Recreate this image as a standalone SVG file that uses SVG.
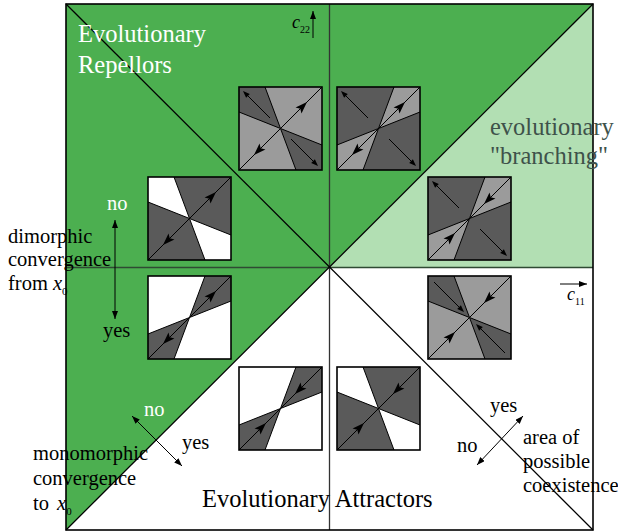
<svg xmlns="http://www.w3.org/2000/svg" xmlns:xlink="http://www.w3.org/1999/xlink" width="618" height="532" viewBox="0 0 618 532">
<style>
.t{font-family:"Liberation Serif","Times New Roman",serif;font-size:20.5px;fill:#000}
.big{font-size:24.5px}
.w{fill:#fff}
.br{fill:#3e524a}
.it{font-style:italic}
.sub{font-size:11px}
.ln{stroke:#000;stroke-width:1.3;fill:none}
.thin{stroke:#000;stroke-width:1;fill:none}
.frame{stroke:#000;stroke-width:1.6;fill:none}
.dk{fill:#5a5a5a}
.lt{fill:#9b9b9b}
.wh{fill:#fff}
</style>
<defs>
<path id="wA" d="M0,0 L26,0 L41.5,41.5 L0,25 Z M83,58 L83,83 L57,83 L41.5,41.5 Z"/>
<path id="lA" d="M26,0 L57,83 M0,25 L83,58"/>
<path id="wB" d="M83,0 L57,0 L41.5,41.5 L83,25 Z M0,58 L0,83 L26,83 L41.5,41.5 Z"/>
<path id="lB" d="M57,0 L26,83 M83,25 L0,58"/>
<path id="ah" d="M0,0 L-12,-4.2 L-9.5,0 L-12,4.2 Z"/>
<path id="sh" d="M0,0 L-7,-2.6 L-7,2.6 Z"/>
<g id="dOut">
<line class="thin" x1="0" y1="83" x2="83" y2="0"/>
<use xlink:href="#ah" href="#ah" transform="translate(68,15) rotate(-45)"/>
<use xlink:href="#ah" href="#ah" transform="translate(15,68) rotate(135)"/>
</g>
<g id="dIn">
<line class="thin" x1="0" y1="83" x2="83" y2="0"/>
<use xlink:href="#ah" href="#ah" transform="translate(56,27) rotate(135)"/>
<use xlink:href="#ah" href="#ah" transform="translate(27,56) rotate(-45)"/>
</g>
<g id="sOut">
<line class="thin" x1="31" y1="31" x2="5" y2="5"/>
<use xlink:href="#sh" href="#sh" transform="translate(4,4) rotate(-135)"/>
<line class="thin" x1="52" y1="52" x2="78" y2="78"/>
<use xlink:href="#sh" href="#sh" transform="translate(79,79) rotate(45)"/>
</g>
<g id="sIn">
<line class="thin" x1="6" y1="6" x2="35" y2="35"/>
<use xlink:href="#sh" href="#sh" transform="translate(36,36) rotate(45)"/>
<line class="thin" x1="77" y1="77" x2="49" y2="49"/>
<use xlink:href="#sh" href="#sh" transform="translate(48,48) rotate(-135)"/>
</g>
<marker id="sa" viewBox="0 0 8 6" refX="8" refY="3" markerWidth="8" markerHeight="6" markerUnits="userSpaceOnUse" orient="auto-start-reverse">
<path d="M0,0 L8,3 L0,6 Z" fill="#000"/>
</marker>
</defs>

<g id="regions">
<rect x="0" y="0" width="618" height="532" fill="#fff"/>
<polygon points="66,4 593,4 329.5,267 66,530" fill="#4caf50"/>
<polygon points="329.5,267 593,4 593,267" fill="#b2dfb3"/>
</g>

<g id="connectors">
<line x1="329.5" y1="4" x2="329.5" y2="530" stroke="#333" stroke-width="1.3"/>
<line x1="66" y1="267.5" x2="593" y2="267.5" stroke="#2f4a33" stroke-width="1.6"/>
<line class="ln" x1="66" y1="4" x2="593" y2="530"/>
<line class="ln" x1="66" y1="530" x2="593" y2="4"/>
<rect class="frame" x="66" y="4" width="527" height="526"/>
<line class="thin" x1="313" y1="38" x2="313" y2="11" marker-end="url(#sa)"/>
<line class="thin" x1="560" y1="284" x2="587" y2="284" marker-end="url(#sa)"/>
<line class="thin" x1="115" y1="220" x2="115" y2="319" marker-start="url(#sa)" marker-end="url(#sa)"/>
<line class="thin" x1="132" y1="416" x2="182" y2="466" marker-start="url(#sa)" marker-end="url(#sa)"/>
<line class="thin" x1="477" y1="465" x2="523" y2="416" marker-start="url(#sa)" marker-end="url(#sa)"/>
</g>

<g id="sq1" transform="translate(239,87)">
<rect width="83" height="83" class="lt"/>
<use xlink:href="#wA" href="#wA" class="dk"/>
<use xlink:href="#lA" href="#lA" class="thin"/>
<use xlink:href="#dOut" href="#dOut"/>
<use xlink:href="#sOut" href="#sOut"/>
<rect width="83" height="83" class="frame"/>
</g>
<g id="sq2" transform="translate(337,87)">
<rect width="83" height="83" class="dk"/>
<use xlink:href="#wB" href="#wB" class="lt"/>
<use xlink:href="#lB" href="#lB" class="thin"/>
<use xlink:href="#dOut" href="#dOut"/>
<use xlink:href="#sOut" href="#sOut"/>
<rect width="83" height="83" class="frame"/>
</g>
<g id="sq3" transform="translate(148,177)">
<rect width="83" height="83" class="dk"/>
<use xlink:href="#wA" href="#wA" class="wh"/>
<use xlink:href="#lA" href="#lA" class="thin"/>
<use xlink:href="#dOut" href="#dOut"/>
<rect width="83" height="83" class="frame"/>
</g>
<g id="sq4" transform="translate(148,276)">
<rect width="83" height="83" class="wh"/>
<use xlink:href="#wB" href="#wB" class="dk"/>
<use xlink:href="#lB" href="#lB" class="thin"/>
<use xlink:href="#dOut" href="#dOut"/>
<rect width="83" height="83" class="frame"/>
</g>
<g id="sq5" transform="translate(428,177)">
<rect width="83" height="83" class="dk"/>
<use xlink:href="#wB" href="#wB" class="lt"/>
<use xlink:href="#lB" href="#lB" class="thin"/>
<use xlink:href="#dIn" href="#dIn"/>
<use xlink:href="#sOut" href="#sOut"/>
<rect width="83" height="83" class="frame"/>
</g>
<g id="sq6" transform="translate(428,276)">
<rect width="83" height="83" class="lt"/>
<use xlink:href="#wA" href="#wA" class="dk"/>
<use xlink:href="#lA" href="#lA" class="thin"/>
<use xlink:href="#dIn" href="#dIn"/>
<use xlink:href="#sIn" href="#sIn"/>
<rect width="83" height="83" class="frame"/>
</g>
<g id="sq7" transform="translate(239,367)">
<rect width="83" height="83" class="wh"/>
<use xlink:href="#wB" href="#wB" class="dk"/>
<use xlink:href="#lB" href="#lB" class="thin"/>
<use xlink:href="#dIn" href="#dIn"/>
<rect width="83" height="83" class="frame"/>
</g>
<g id="sq8" transform="translate(337,367)">
<rect width="83" height="83" class="dk"/>
<use xlink:href="#wA" href="#wA" class="wh"/>
<use xlink:href="#lA" href="#lA" class="thin"/>
<use xlink:href="#dIn" href="#dIn"/>
<rect width="83" height="83" class="frame"/>
</g>

<g id="labels">
<text class="t big w" x="78" y="42">Evolutionary</text>
<text class="t big w" x="78" y="73">Repellors</text>
<text class="t big br" x="490" y="135">evolutionary</text>
<text class="t big br" x="490" y="164">"branching"</text>
<text class="t big" x="202" y="507">Evolutionary Attractors</text>
<text class="t it" x="292" y="28" style="font-size:18px">c<tspan class="sub" style="font-style:normal;font-size:10px" dy="5">22</tspan></text>
<text class="t it" x="567" y="300" style="font-size:18px">c<tspan class="sub" style="font-style:normal;font-size:10px" dy="5">11</tspan></text>
<text class="t" x="8" y="243">dimorphic</text>
<text class="t" x="8" y="266">convergence</text>
<text class="t" x="8" y="290">from <tspan class="it">x</tspan><tspan class="sub" dy="5">0</tspan></text>
<text class="t w" x="107" y="210">no</text>
<text class="t" x="103" y="337">yes</text>
<text class="t w" x="144" y="416">no</text>
<text class="t" x="182" y="449">yes</text>
<text class="t" x="33" y="460">monomorphic</text>
<text class="t" x="33" y="485">convergence</text>
<text class="t" x="33" y="510">to <tspan class="it" dx="3">x</tspan><tspan class="sub" dy="5">0</tspan></text>
<text class="t" x="490" y="412">yes</text>
<text class="t" x="457" y="452">no</text>
<text class="t" x="523" y="444">area of</text>
<text class="t" x="523" y="468">possible</text>
<text class="t" x="523" y="492">coexistence</text>
</g>
</svg>
